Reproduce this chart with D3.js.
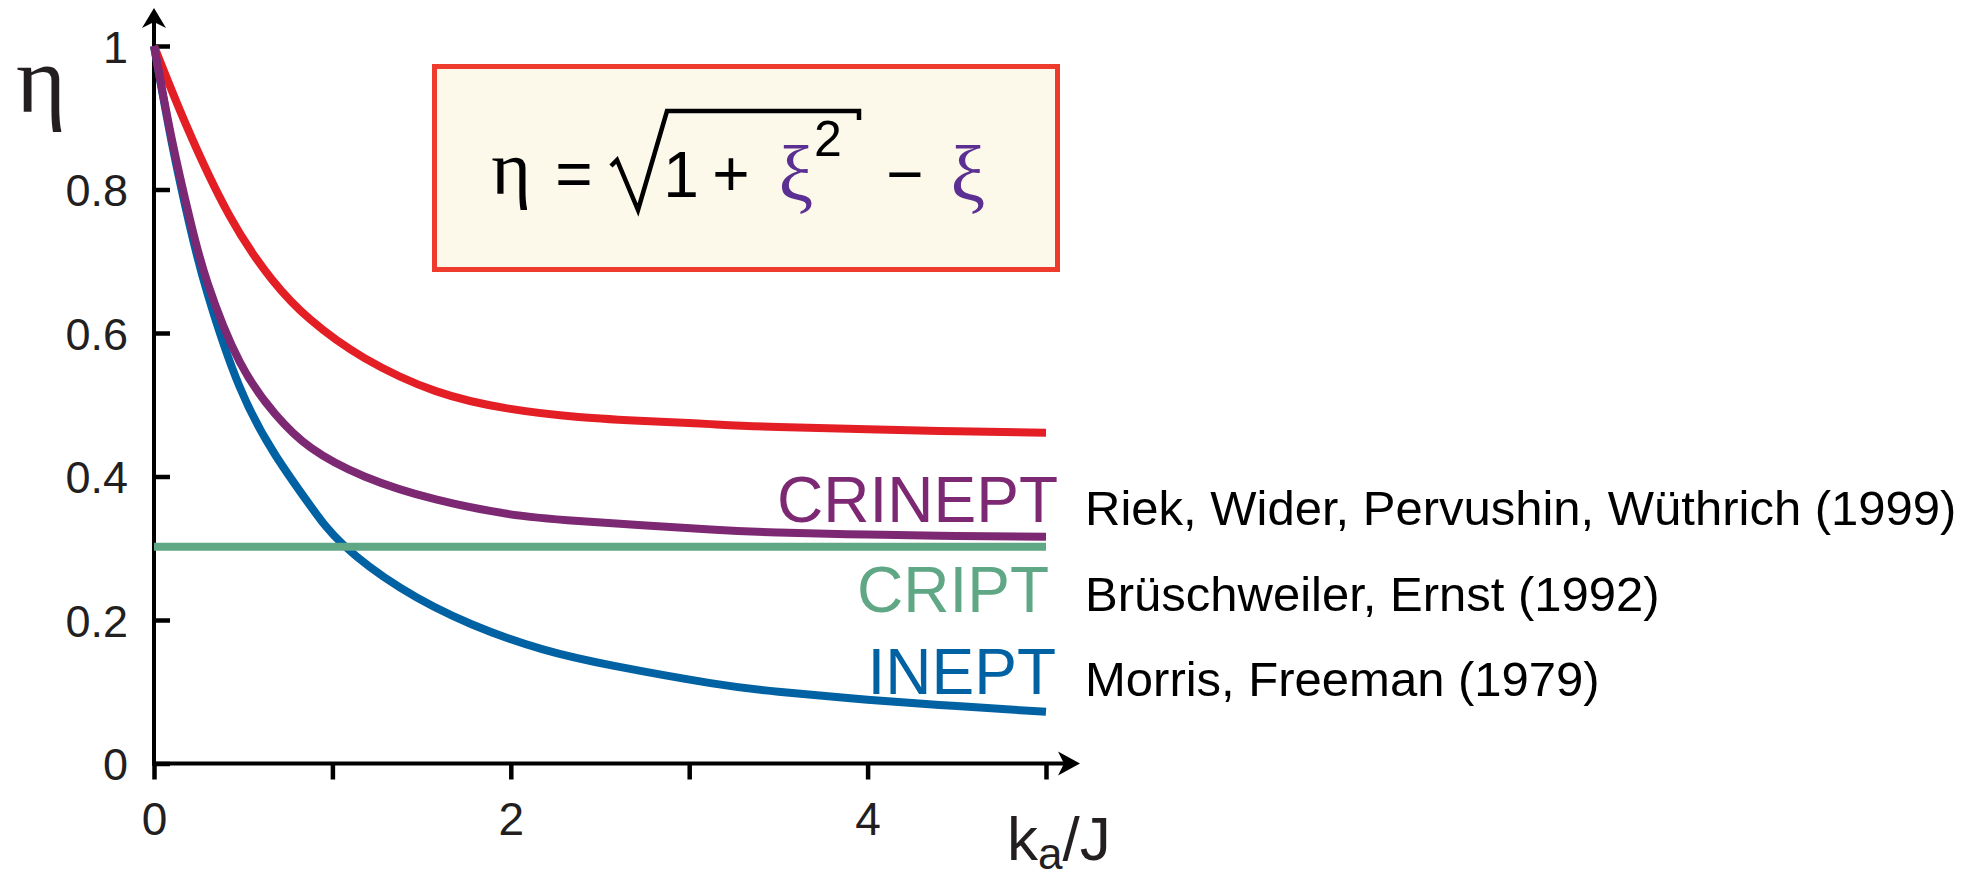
<!DOCTYPE html>
<html>
<head>
<meta charset="utf-8">
<script src="https://cdn.jsdelivr.net/npm/d3@7"></script>
<style>
  body { margin: 0; background: #fff; }
</style>
</head>
<body>
<div id="chart"></div>
<script>
var width = 1982;
var height = 882;
var sans = "Liberation Sans, Arial, Helvetica, sans-serif";
var serif = "Liberation Serif, Times New Roman, serif";

// values (x = ka/J, y = eta)
var redX = [0, 0.18, 0.42, 0.66, 0.88, 1.18, 1.58, 1.98, 2.38, 2.78, 3.12, 3.5, 4, 4.5, 5];
var redEta = [1, 0.89, 0.765, 0.675, 0.618, 0.565, 0.519, 0.495, 0.483, 0.477, 0.473, 0.469, 0.466, 0.463, 0.461];

var crineptX = [0, 0.1, 0.2, 0.3, 0.48, 0.68, 0.88, 1.18, 1.58, 1.98, 2.38, 3.12, 3.5, 4, 4.5, 5];
var crineptEta = [1, 0.87, 0.76, 0.67, 0.56, 0.487, 0.44, 0.4, 0.368, 0.348, 0.338, 0.326, 0.322, 0.319, 0.317, 0.316];

var ineptX = [0, 0.1, 0.2, 0.3, 0.48, 0.68, 0.88, 1.06, 1.38, 1.78, 2.18, 2.58, 3.12, 3.5, 4, 4.5, 5];
var ineptEta = [1, 0.865, 0.75, 0.655, 0.525, 0.43, 0.358, 0.305, 0.245, 0.194, 0.159, 0.136, 0.112, 0.1, 0.089, 0.08, 0.072];

var criptX = [0, 5];
var criptEta = [0.302, 0.302];

var xTicks = [0, 1, 2, 3, 4, 5];
var xTickLabels = ["0", "", "2", "", "4", ""];
var yTicks = [0, 0.2, 0.4, 0.6, 0.8, 1];
var yTickLabels = ["0", "0.2", "0.4", "0.6", "0.8", "1"];

var seriesNames = ["CRINEPT", "CRIPT", "INEPT"];
var citations = ["Riek, Wider, Pervushin, Wüthrich (1999)", "Brüschweiler, Ernst (1992)", "Morris, Freeman (1979)"];

var x = d3.scaleLinear().domain([0, 5]).range([154, 1046]);
var y = d3.scaleLinear().domain([0, 1]).range([763.5, 46]);

var svg = d3.select("#chart")
    .append("svg")
    .attr("width", width)
    .attr("height", height)
    .style("font-family", sans);

// formula box
svg.append("rect")
    .attr("x", 434.5).attr("y", 66.5)
    .attr("width", 623).attr("height", 203)
    .attr("fill", "#fcf9ea")
    .attr("stroke", "#ee3b2d")
    .attr("stroke-width", 5);

var f = svg.append("g");
f.append("text").text("η")
    .attr("x", 511).attr("y", 194)
    .attr("text-anchor", "middle")
    .style("font-family", serif)
    .attr("font-size", 76);
f.append("text").text("=")
    .attr("x", 574).attr("y", 196)
    .attr("text-anchor", "middle").attr("font-size", 64);
f.append("path")
    .attr("d", "M611,166 L617,160 L638,210 L667,111 L859,111 L859,120")
    .attr("fill", "none").attr("stroke", "#000")
    .attr("stroke-width", 4.5).attr("stroke-linejoin", "miter");
f.append("text").text("1")
    .attr("x", 681).attr("y", 197)
    .attr("text-anchor", "middle").attr("font-size", 64);
f.append("text").text("+")
    .attr("x", 731).attr("y", 196)
    .attr("text-anchor", "middle").attr("font-size", 64);
f.append("text").text("ξ")
    .attr("x", 796).attr("y", 200)
    .attr("text-anchor", "middle")
    .style("font-family", serif)
    .attr("font-size", 78).attr("fill", "#5b3092");
f.append("text").text("2")
    .attr("x", 828).attr("y", 156)
    .attr("text-anchor", "middle").attr("font-size", 50);
f.append("text").text("−")
    .attr("x", 905).attr("y", 196)
    .attr("text-anchor", "middle").attr("font-size", 64);
f.append("text").text("ξ")
    .attr("x", 968).attr("y", 200)
    .attr("text-anchor", "middle")
    .style("font-family", serif)
    .attr("font-size", 78).attr("fill", "#5b3092");

// axes
var xAxis = svg.append("g")
    .attr("transform", "translate(0," + y(0) + ")")
    .call(d3.axisBottom(x).tickValues(xTicks)
        .tickFormat(function(d, i){ return xTickLabels[i]; })
        .tickSizeInner(16).tickSizeOuter(0));
xAxis.select(".domain").remove();
xAxis.selectAll(".tick line").attr("stroke", "#000").attr("stroke-width", 4.5);
xAxis.selectAll(".tick text")
    .attr("y", 71).attr("dy", 0)
    .attr("font-size", 46).attr("fill", "#231f20")
    .style("font-family", sans);

var yAxis = svg.append("g")
    .attr("transform", "translate(" + x(0) + ",0)")
    .call(d3.axisLeft(y).tickValues(yTicks)
        .tickFormat(function(d, i){ return yTickLabels[i]; })
        .tickSizeInner(-16).tickSizeOuter(0).tickPadding(26));
yAxis.select(".domain").remove();
yAxis.selectAll(".tick line").attr("stroke", "#000").attr("stroke-width", 4.5);
yAxis.selectAll(".tick text")
    .attr("dy", "0.36em")
    .attr("font-size", 45).attr("fill", "#231f20")
    .style("font-family", sans);

var x0 = x(0), y0 = y(0);
var xEnd = x(5) + 34, yEnd = y(1) - 38;
svg.append("line")
    .attr("x1", x0).attr("y1", y0 + 2).attr("x2", x0).attr("y2", yEnd + 10)
    .attr("stroke", "#000").attr("stroke-width", 4);
svg.append("line")
    .attr("x1", x0 - 2).attr("y1", y0).attr("x2", xEnd - 10).attr("y2", y0)
    .attr("stroke", "#000").attr("stroke-width", 4);
svg.append("path")
    .attr("d", "M" + x0 + "," + yEnd + " L" + (x0 - 12) + "," + (yEnd + 20) +
        " L" + x0 + "," + (yEnd + 14) + " L" + (x0 + 12) + "," + (yEnd + 20) + "Z")
    .attr("fill", "#000");
svg.append("path")
    .attr("d", "M" + xEnd + "," + y0 + " L" + (xEnd - 22) + "," + (y0 - 12) +
        " L" + (xEnd - 16) + "," + y0 + " L" + (xEnd - 22) + "," + (y0 + 12) + "Z")
    .attr("fill", "#000");

// curves
var line = d3.line()
    .x(function(d){ return x(d[0]); })
    .y(function(d){ return y(d[1]); })
    .curve(d3.curveNatural);

function draw(xs, ys, color, w){
    svg.append("path")
        .datum(xs.map(function(v, i){ return [v, ys[i]]; }))
        .attr("d", line)
        .attr("fill", "none")
        .attr("stroke", color)
        .attr("stroke-width", w);
}
draw(redX, redEta, "#e31e25", 8);
draw(ineptX, ineptEta, "#0061a3", 8);
draw(crineptX, crineptEta, "#7c2873", 8);
draw(criptX, criptEta, "#5fa785", 8);

// labels
var labelColors = ["#7c2873", "#5fa785", "#0061a3"];
var labelRight = [1058, 1049, 1056];
var labelBase = [522, 612, 694];
svg.selectAll(".lab")
    .data(seriesNames)
    .enter()
    .append("text")
    .attr("class", "lab")
    .text(function(d){ return d; })
    .attr("x", function(d, i){ return labelRight[i]; })
    .attr("y", function(d, i){ return labelBase[i]; })
    .attr("text-anchor", "end")
    .attr("font-size", 64)
    .attr("fill", function(d, i){ return labelColors[i]; });

var citeBase = [525, 611, 696];
svg.selectAll(".cite")
    .data(citations)
    .enter()
    .append("text")
    .attr("class", "cite")
    .text(function(d){ return d; })
    .attr("x", 1085)
    .attr("y", function(d, i){ return citeBase[i]; })
    .attr("font-size", 49)
    .attr("fill", "#000");

// axis titles
svg.append("text").text("η")
    .attr("x", 16).attr("y", 112)
    .style("font-family", serif)
    .attr("font-size", 96)
    .attr("fill", "#231f20");

var xt = svg.append("text")
    .attr("x", 1007).attr("y", 860)
    .attr("font-size", 62).attr("fill", "#231f20");
xt.append("tspan").text("k");
xt.append("tspan").text("a").attr("font-size", 44).attr("dy", 9);
xt.append("tspan").text("/J").attr("dy", -9);
</script>
</body>
</html>
